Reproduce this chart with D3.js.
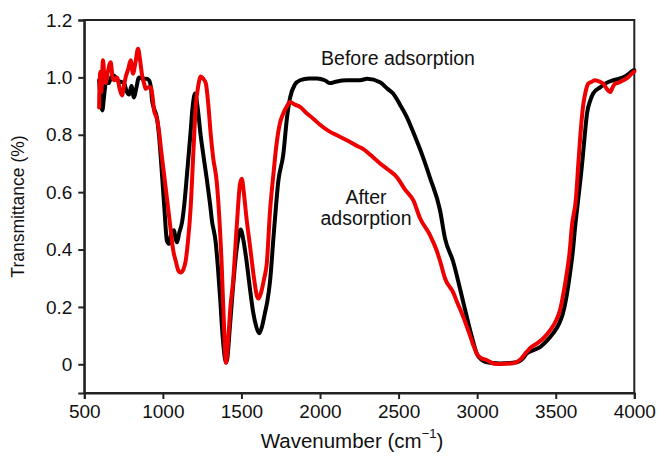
<!DOCTYPE html>
<html>
<head>
<meta charset="utf-8">
<script src="https://cdn.jsdelivr.net/npm/d3@7"></script>
<style>
  html, body { margin: 0; padding: 0; background: #fff; }
  svg { display: block; font-family: "Liberation Sans", Arial, Helvetica, sans-serif; }
</style>
</head>
<body>
<svg id="chart" width="658" height="458"></svg>
<script>
// FTIR transmittance spectra, before and after adsorption
const beforeWavenumber = [594,600,608,615,625,640,655,670,689,710,730,753,770,785,800,816,830,848,870,895,912,925,931,945,963,975,994,1010,1026,1040,1055,1071,1080,1090,1105,1122,1135,1154,1175,1190,1205,1220,1240,1260,1281,1300,1315,1320,1335,1350,1364,1380,1395,1402,1410,1425,1445,1465,1480,1495,1510,1530,1555,1575,1595,1612,1630,1650,1665,1682,1705,1735,1766,1790,1810,1840,1873,1930,1981,2030,2064,2100,2172,2255,2300,2382,2430,2465,2509,2554,2600,2650,2700,2764,2795,2846,2910,2967,2999,3030,3062,3145,3253,3290,3317,3360,3400,3440,3483,3520,3546,3570,3591,3610,3623,3642,3668,3685,3699,3720,3738,3782,3820,3865,3900,3929,3960,3993,4000];
const beforeT = [0.99,0.95,0.90,0.885,0.93,0.99,0.98,1.0,1.007,0.99,0.985,0.98,0.95,0.94,0.97,0.93,0.96,1.0,0.995,0.995,0.99,0.96,0.92,0.89,0.857,0.80,0.665,0.54,0.43,0.42,0.46,0.467,0.44,0.425,0.46,0.495,0.55,0.665,0.80,0.90,0.944,0.90,0.80,0.72,0.64,0.56,0.49,0.477,0.43,0.34,0.234,0.10,0.02,0.007,0.02,0.12,0.26,0.38,0.44,0.47,0.44,0.37,0.26,0.18,0.13,0.108,0.13,0.18,0.22,0.29,0.45,0.64,0.73,0.86,0.93,0.975,0.99,0.996,0.996,0.99,0.98,0.985,0.99,0.99,0.995,0.983,0.96,0.944,0.905,0.86,0.80,0.73,0.65,0.536,0.44,0.36,0.22,0.094,0.035,0.015,0.007,0.003,0.007,0.02,0.038,0.05,0.06,0.08,0.108,0.14,0.178,0.24,0.317,0.40,0.477,0.57,0.70,0.80,0.874,0.92,0.944,0.965,0.98,0.99,0.995,1.0,1.01,1.024,1.025];

const afterWavenumber = [594,598,603,608,619,628,636,650,668,680,689,708,725,740,752,763,780,795,810,825,842,855,867,880,891,905,922,935,944,960,975,990,1007,1030,1050,1065,1082,1100,1113,1130,1145,1160,1177,1195,1209,1225,1241,1257,1273,1290,1304,1320,1342,1374,1390,1402,1415,1430,1447,1470,1491,1502,1515,1530,1555,1580,1600,1608,1625,1645,1661,1682,1703,1724,1745,1766,1790,1809,1840,1873,1915,1957,2000,2064,2120,2191,2240,2276,2320,2361,2382,2430,2488,2540,2594,2636,2700,2740,2764,2795,2848,2870,2912,2955,2980,3000,3030,3061,3103,3150,3230,3273,3315,3345,3379,3420,3464,3500,3527,3550,3570,3590,3602,3629,3644,3660,3676,3690,3707,3730,3750,3780,3803,3825,3846,3862,3877,3900,3930,3960,3994,4000];
const afterT = [0.895,0.99,1.02,0.95,1.06,1.0,0.98,1.02,1.053,1.0,0.99,1.0,0.96,0.937,0.97,1.0,1.03,1.06,1.013,1.05,1.10,1.06,1.01,0.98,0.96,0.965,0.966,0.93,0.885,0.86,0.815,0.74,0.665,0.56,0.467,0.40,0.36,0.325,0.32,0.33,0.36,0.43,0.548,0.75,0.897,0.97,1.003,0.995,0.98,0.90,0.805,0.72,0.64,0.35,0.12,0.005,0.08,0.20,0.29,0.48,0.63,0.647,0.60,0.52,0.41,0.30,0.235,0.229,0.25,0.30,0.35,0.536,0.66,0.77,0.84,0.874,0.90,0.914,0.905,0.897,0.875,0.856,0.835,0.81,0.795,0.775,0.76,0.75,0.73,0.71,0.70,0.68,0.653,0.61,0.571,0.51,0.45,0.40,0.36,0.30,0.25,0.22,0.165,0.10,0.06,0.035,0.02,0.015,0.003,0.001,0.004,0.016,0.043,0.06,0.072,0.09,0.118,0.15,0.188,0.25,0.316,0.40,0.478,0.58,0.70,0.82,0.908,0.95,0.978,0.985,0.99,0.985,0.978,0.96,0.949,0.965,0.978,0.982,0.99,1.0,1.018,1.02];

const xTicks = [500,1000,1500,2000,2500,3000,3500,4000];
const yTicks = [0,0.2,0.4,0.6,0.8,1.0,1.2];

const W = 658, H = 458;
const margin = { left: 84.3, right: W - 634.3, top: 20, bottom: H - 393 };

const svg = d3.select("#chart");
const x = d3.scaleLinear().domain([500, 4000]).range([margin.left, W - margin.right]);
const y = d3.scaleLinear().domain([-0.1, 1.2]).range([H - margin.bottom, margin.top]);

const axisColor = "#222";

// frame
svg.append("rect")
  .attr("x", x(500)).attr("y", y(1.2))
  .attr("width", x(4000) - x(500)).attr("height", y(-0.1) - y(1.2))
  .attr("fill", "none").attr("stroke", axisColor).attr("stroke-width", 2);

// axes
const gx = svg.append("g")
  .attr("transform", `translate(0,${y(-0.1)})`)
  .call(d3.axisBottom(x).tickValues(xTicks).tickSize(6).tickPadding(6).tickFormat(d3.format("d")));
const gy = svg.append("g")
  .attr("transform", `translate(${x(500)},0)`)
  .call(d3.axisLeft(y).tickValues(yTicks).tickSize(6).tickPadding(6)
    .tickFormat(d => d === 0 ? "0" : d3.format(".1f")(d)));

[gx, gy].forEach(g => {
  g.select(".domain").attr("stroke", axisColor).attr("stroke-width", 2);
  g.selectAll(".tick line").attr("stroke", axisColor).attr("stroke-width", 2);
  g.selectAll(".tick text").attr("fill", "#111").style("font-size", "19px")
    .style("font-family", "'Liberation Sans', Arial, sans-serif");
});

// spectra
const line = d3.line().x(d => x(d[0])).y(d => y(d[1])).curve(d3.curveMonotoneX);
const before = d3.zip(beforeWavenumber, beforeT);
const after = d3.zip(afterWavenumber, afterT);

svg.append("path").datum(before)
  .attr("d", line).attr("fill", "none").attr("stroke", "#000")
  .attr("stroke-width", 4).attr("stroke-linejoin", "round").attr("stroke-linecap", "round");
svg.append("path").datum(after)
  .attr("d", line).attr("fill", "none").attr("stroke", "#ee0000")
  .attr("stroke-width", 4).attr("stroke-linejoin", "round").attr("stroke-linecap", "round");

// annotations
const ann = svg.append("g").attr("fill", "#111").style("font-size", "19.5px").attr("text-anchor", "middle");
ann.append("text").attr("x", 398).attr("y", 65).text("Before adsorption");
ann.append("text").attr("x", 366).attr("y", 204).text("After");
ann.append("text").attr("x", 366).attr("y", 225).text("adsorption");

// axis titles
svg.append("text")
  .attr("transform", `translate(24,${(y(1.2) + y(-0.1)) / 2}) rotate(-90)`)
  .attr("text-anchor", "middle").attr("fill", "#111").style("font-size", "17.5px")
  .text("Transmittance (%)");

const xt = svg.append("text")
  .attr("x", 352).attr("y", 448)
  .attr("text-anchor", "middle").attr("fill", "#111").style("font-size", "20.5px");
xt.append("tspan").text("Wavenumber (cm");
xt.append("tspan").attr("dy", -10).style("font-size", "13px").text("\u22121");
xt.append("tspan").attr("dy", 10).text(")");
</script>
</body>
</html>
